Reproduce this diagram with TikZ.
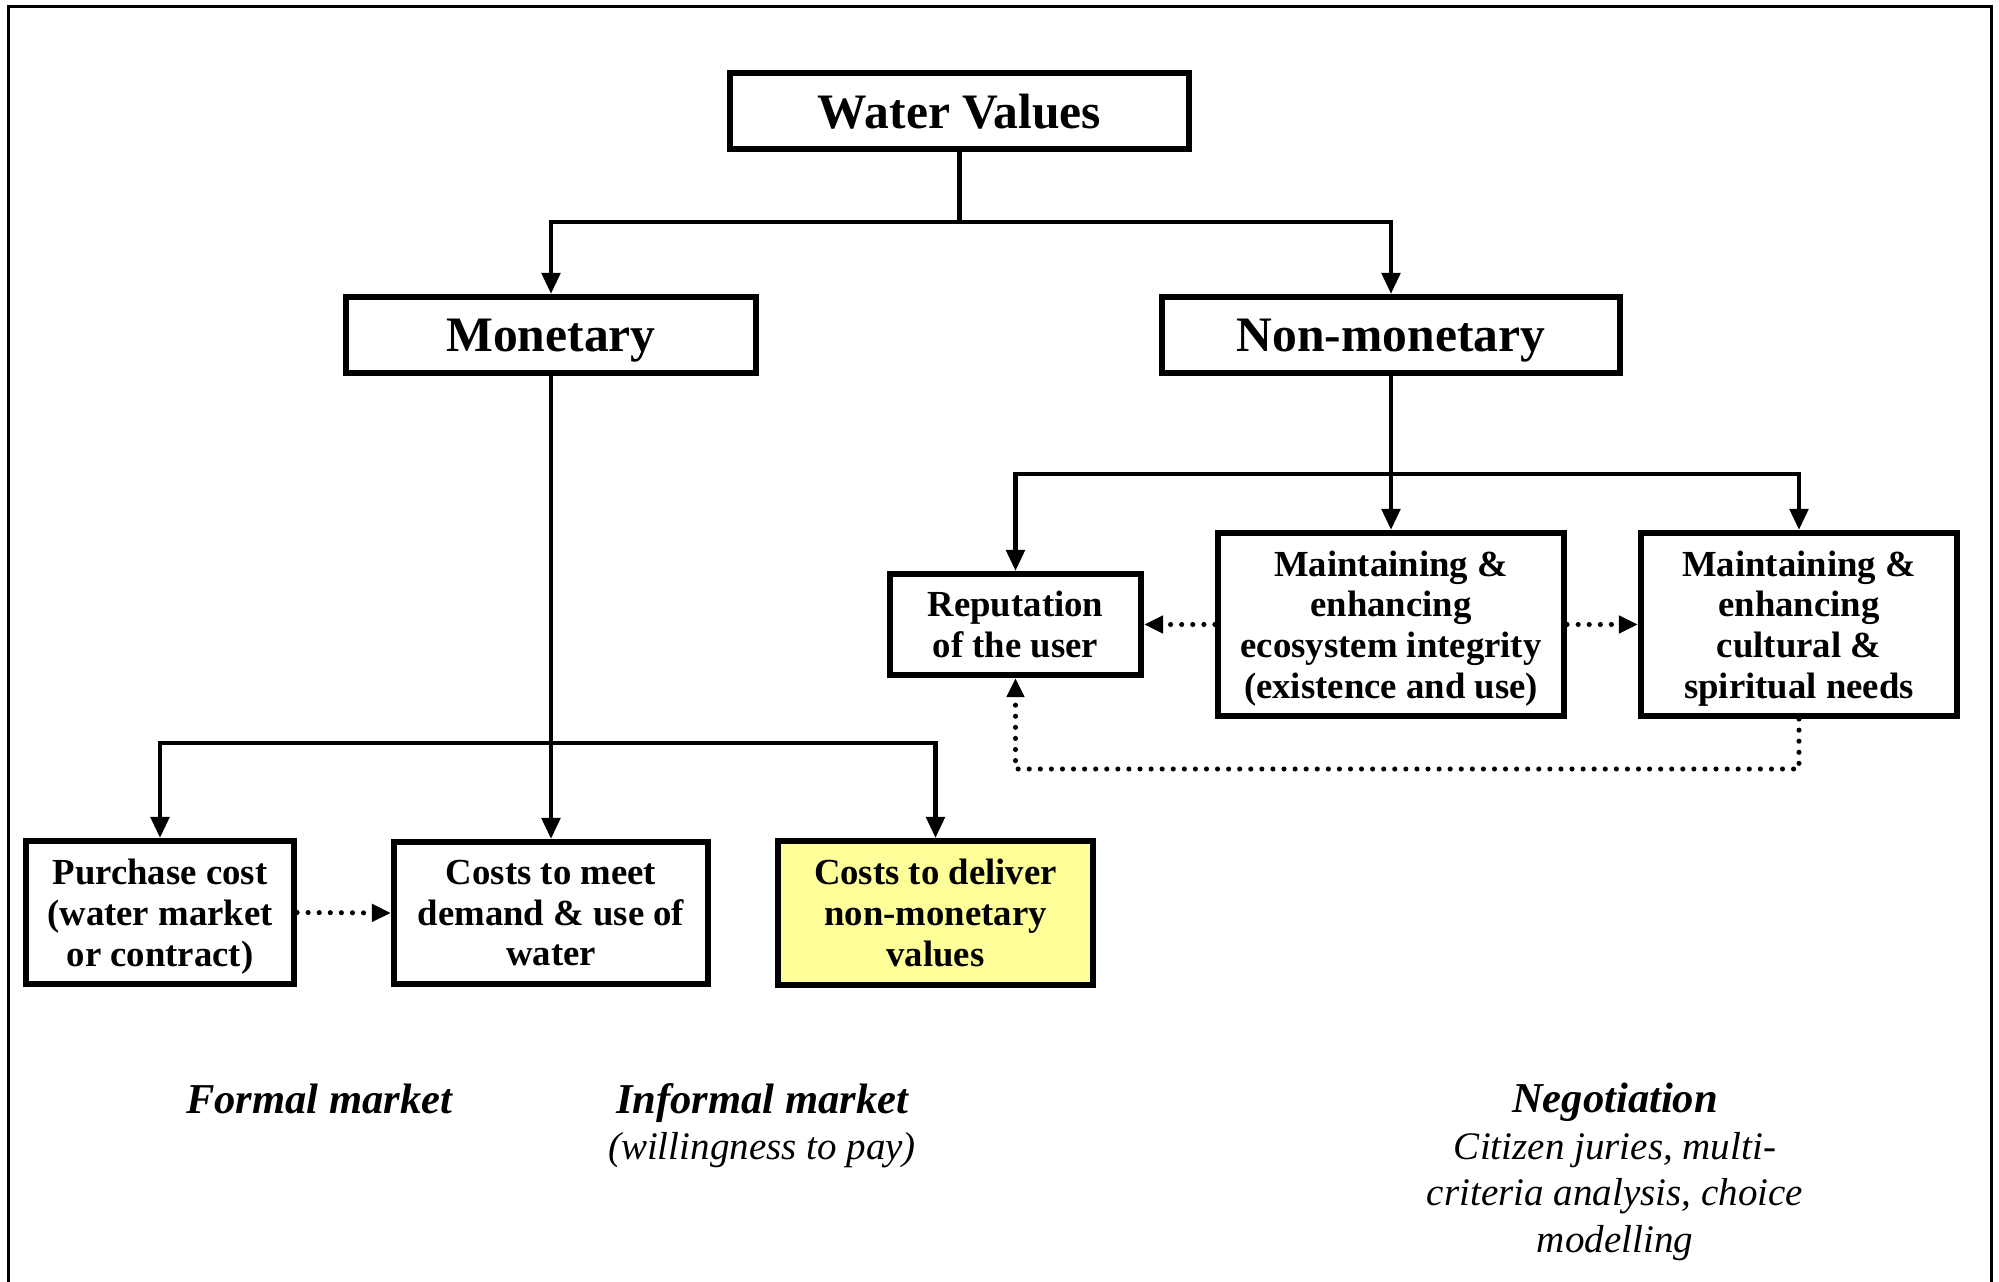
\documentclass[tikz,border=0pt]{standalone}
\usepackage{fontspec}
\setmainfont{Liberation Serif}
\definecolor{noteYellow}{RGB}{255, 255, 153}
\usetikzlibrary{arrows.meta}
\newcommand{\noteHead}{\fontsize{12.1}{13.2}\selectfont\bfseries\itshape}

\begin{document}
\begin{tikzpicture}[
    x=0.01cm, y=-0.01cm,
    headbox/.style={rectangle, draw, line width=1.7pt, inner sep=2pt,
                    minimum height=0.76cm, align=center, text depth=0pt,
                    font=\fontsize{14.1}{16}\selectfont\bfseries},
    itembox/.style={rectangle, draw, line width=1.7pt, inner sep=2pt,
                    align=center, text depth=0pt,
                    font=\fontsize{10.45}{11.6}\selectfont\bfseries},
    notetext/.style={align=center, font=\fontsize{11.1}{13.2}\selectfont\itshape},
    arrow/.style={-{Triangle[length=6pt, width=5.2pt]}, line width=1.3pt},
    dotarrow/.style={-{Triangle[length=5.4pt, width=4.8pt]}, line width=1.45pt,
                     line cap=round, dash pattern=on 0pt off 3.15pt},
  ]
    \useasboundingbox (0,0) rectangle (1999,1282);
    \draw[line width=0.85pt] (8.5,1300) -- (8.5,6.5) -- (1991.5,6.5) -- (1991.5,1300);

    \node[headbox, minimum width=4.59cm] (WV) at (959.5,111) {Water Values};
    \node[headbox, minimum width=4.10cm] (Mon) at (551,335) {Monetary};
    \node[headbox, minimum width=4.58cm] (NonMon) at (1391,335) {Non-monetary};

    \node[itembox, minimum width=2.51cm, minimum height=1.01cm] (Rep) at (1015.5,624.5)
         {Reputation\\of the user};
    \node[itembox, minimum width=3.46cm, minimum height=1.83cm] (Eco) at (1391,624.5)
         {Maintaining \&\\enhancing\\ecosystem integrity\\(existence and use)};
    \node[itembox, minimum width=3.16cm, minimum height=1.83cm] (Cult) at (1799,624.5)
         {Maintaining \&\\enhancing\\cultural \&\\spiritual needs};

    \node[itembox, minimum width=2.68cm, minimum height=1.43cm] (Purchase) at (160,912.5)
         {Purchase cost\\(water market\\or contract)};
    \node[itembox, minimum width=3.14cm, minimum height=1.42cm] (Meet) at (551,913)
         {Costs to meet\\demand \& use of\\water};
    \node[itembox, fill=noteYellow, minimum width=3.15cm, minimum height=1.44cm] (Deliver)
         at (935.5,913) {Costs to deliver\\non-monetary\\values};

    \node[notetext] (Formal) at (319,1099) {{\noteHead Formal market}};
    \node[notetext] (Informal) at (762,1126)
         {{\noteHead Informal market}\\(willingness to pay)};
    \node[notetext] (Negot) at (1615,1172)
         {{\noteHead Negotiation}\\Citizen juries, multi-\\criteria analysis, choice\\modelling};

    \coordinate (TopJ) at (959.5,222);
    \draw[arrow] (WV.south) -- (TopJ) -| (Mon.north);
    \draw[arrow] (TopJ) -| (NonMon.north);

    \coordinate (MonJ) at (551,743);
    \draw[arrow] (Mon.south) -- (Meet.north);
    \draw[arrow] (MonJ) -| (Purchase.north);
    \draw[arrow] (MonJ) -| (Deliver.north);

    \coordinate (NonJ) at (1391,474);
    \draw[arrow] (NonMon.south) -- (Eco.north);
    \draw[arrow] (NonJ) -| (Rep.north);
    \draw[arrow] (NonJ) -| (Cult.north);

    \draw[dotarrow] (Eco.west) -- (Rep.east);
    \draw[dotarrow] (Eco.east) -- (Cult.west);
    \draw[dotarrow] (Purchase.east) -- (Meet.west);
    \coordinate (LoopY) at (0,769);
    \draw[dotarrow] (Cult.south) -- (Cult.south |- LoopY) -| (Rep.south);
  \end{tikzpicture}
\end{document}
